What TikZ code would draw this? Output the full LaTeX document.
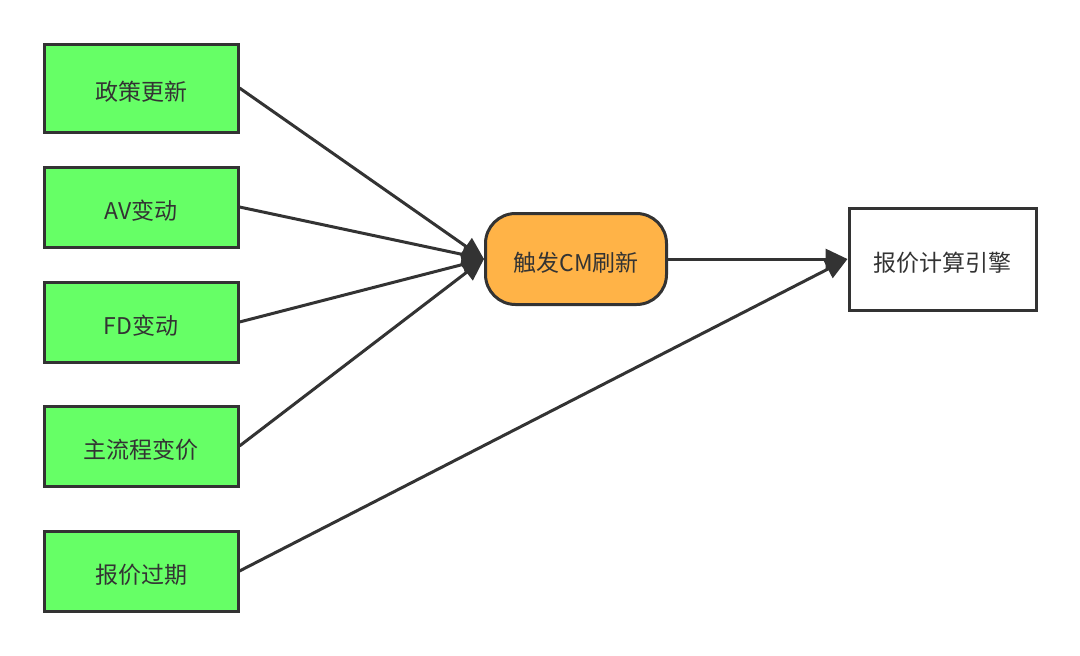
\documentclass[tikz,border=0pt]{standalone}
\usepackage{fontspec}
\setmainfont{Noto Sans CJK SC}
\usetikzlibrary{arrows.meta}
\definecolor{srcgreen}{HTML}{66FF66}
\definecolor{trigorange}{HTML}{FFB347}
\definecolor{linegray}{HTML}{333333}
\begin{document}
\begin{tikzpicture}[x=1pt,y=1pt,
  txt/.style={text=linegray,font=\fontsize{23}{27}\selectfont,text height=25pt,text depth=0pt,inner sep=0pt},
  srcbox/.style={txt,draw=linegray,line width=3pt,fill=srcgreen,minimum width=194pt,minimum height=80pt},
  trigbox/.style={txt,draw=linegray,line width=3pt,fill=trigorange,rounded corners=30pt,minimum width=181pt,minimum height=91pt},
  engbox/.style={txt,draw=linegray,line width=3pt,fill=white,minimum width=187pt,minimum height=102pt},
  flow/.style={draw=linegray,line width=3pt,-{Triangle[length=22pt,width=20pt]}}]
\useasboundingbox (0,0) rectangle (1080,-656);
\node[srcbox,minimum height=88pt] (s1) at (141,-88) {政策更新};
\node[srcbox] (s2) at (141,-207) {AV变动};
\node[srcbox] (s3) at (141,-322) {FD变动};
\node[srcbox] (s4) at (141,-446) {主流程变价};
\node[srcbox] (s5) at (141,-571) {报价过期};
\node[trigbox] (t) at (576,-259) {触发CM刷新};
\node[engbox] (e) at (942.5,-259) {报价计算引擎};
\draw[flow] (s1.east) -- (t.west);
\draw[flow] (s2.east) -- (t.west);
\draw[flow] (s3.east) -- (t.west);
\draw[flow] (s4.east) -- (t.west);
\draw[flow] (t.east) -- (e.west);
\draw[flow] (s5.east) -- (e.west);
\end{tikzpicture}
\end{document}
